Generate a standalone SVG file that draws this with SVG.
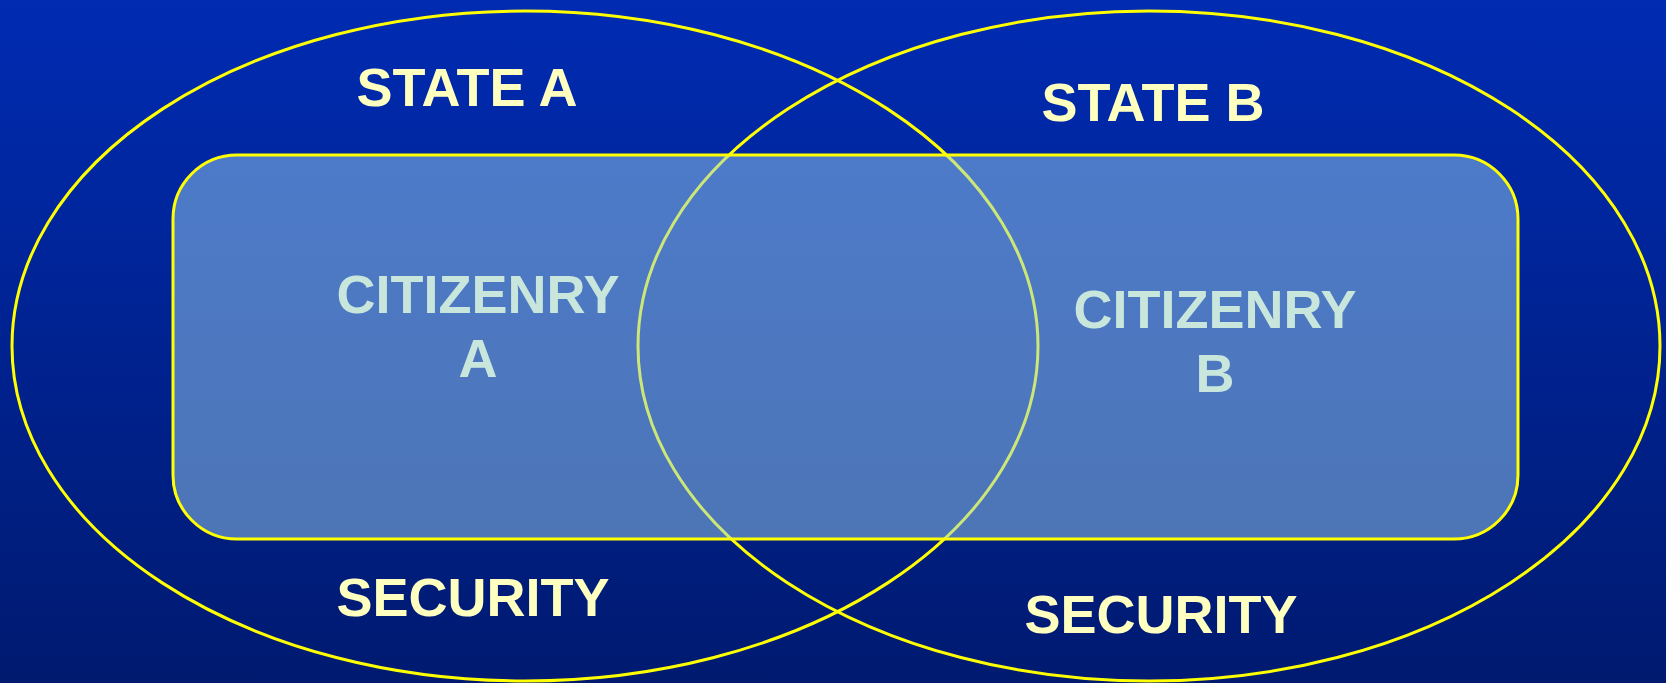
<svg xmlns="http://www.w3.org/2000/svg" width="1666" height="683" viewBox="0 0 1666 683">
<defs>
<linearGradient id="bg" x1="0" y1="0" x2="0" y2="1">
<stop offset="0" stop-color="#002bb2"/>
<stop offset="1" stop-color="#001a70"/>
</linearGradient>
<style>
.ring{fill:none;stroke:#ffff00;stroke-width:3}
.box{fill:#9acef0;fill-opacity:0.5;stroke:#ffff00;stroke-width:3}
.lbl{font-family:"Liberation Sans",Arial,sans-serif;font-weight:bold;font-size:54px;text-anchor:middle;fill:#ffffc0}
.cit{font-family:"Liberation Sans",Arial,sans-serif;font-weight:bold;font-size:54px;text-anchor:middle;fill:#c8e6dc}
</style>
</defs>
<rect width="1666" height="683" fill="url(#bg)"/>
<g id="stateA">
<ellipse class="ring" cx="525" cy="346" rx="513" ry="335"/>
<text class="lbl" x="467" y="106">STATE A</text>
<text class="lbl" x="473" y="616">SECURITY</text>
</g>
<g id="stateB">
<ellipse class="ring" cx="1149" cy="346" rx="511" ry="335"/>
<text class="lbl" x="1153" y="121">STATE B</text>
<text class="lbl" x="1161" y="633">SECURITY</text>
</g>
<g id="citizenry">
<rect class="box" x="173" y="155" width="1345" height="384" rx="64" ry="64"/>
<text class="cit" x="478" y="313">CITIZENRY</text>
<text class="cit" x="478" y="377">A</text>
<text class="cit" x="1215" y="328">CITIZENRY</text>
<text class="cit" x="1215" y="392">B</text>
</g>
<g id="connectors"/>
</svg>
